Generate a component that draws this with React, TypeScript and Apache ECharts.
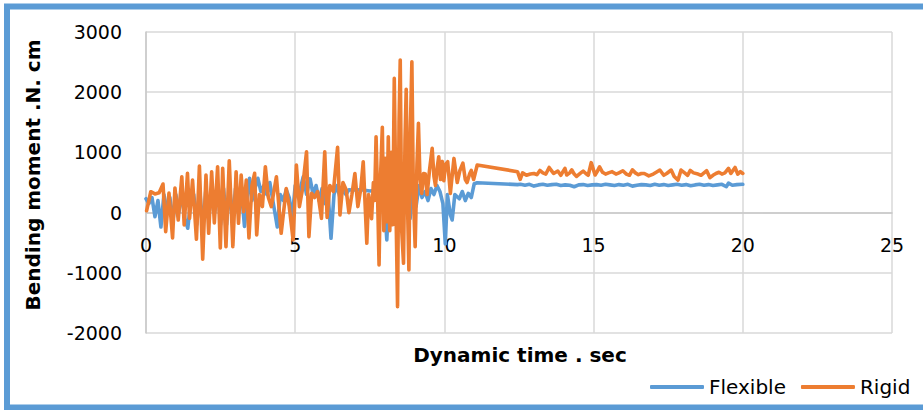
import React, { useEffect, useRef } from "react";
import * as echarts from "echarts";

const rigidTime = [
  0.02, 0.16, 0.3, 0.44, 0.57, 0.66, 0.77, 0.89, 0.97, 1.08, 1.2, 1.28, 1.39, 1.46, 1.56, 1.69, 1.79, 1.9, 2.01, 2.1,
  2.2, 2.29, 2.4, 2.49, 2.57, 2.68, 2.79, 2.91, 3.02, 3.1, 3.19, 3.27, 3.36, 3.45, 3.55, 3.64, 3.71, 3.8, 3.9, 4.0,
  4.1, 4.2, 4.37, 4.53, 4.7, 4.8, 4.93, 5.04, 5.14, 5.24, 5.38, 5.46, 5.55, 5.65, 5.75, 5.88, 5.99, 6.07, 6.16, 6.28,
  6.42, 6.5, 6.6, 6.71, 6.8, 6.9, 7.0, 7.1, 7.2, 7.28, 7.4, 7.46, 7.51, 7.56, 7.62, 7.66, 7.71, 7.76, 7.81, 7.86,
  7.92, 7.97, 8.02, 8.07, 8.12, 8.17, 8.22, 8.27, 8.32, 8.38, 8.43, 8.48, 8.52, 8.57, 8.63, 8.68, 8.72, 8.77, 8.81, 8.86,
  8.91, 8.96, 9.02, 9.08, 9.13, 9.18, 9.24, 9.3, 9.36, 9.42, 9.5, 9.59, 9.65, 9.7, 9.76, 9.81, 9.87, 9.93, 9.98, 10.04,
  10.11, 10.2, 10.32, 10.43, 10.52, 10.62, 10.7, 10.76, 10.85, 10.9, 10.98, 11.1, 12.45, 12.54, 12.62, 12.75, 12.88, 13.0, 13.1, 13.2,
  13.3, 13.4, 13.51, 13.6, 13.66, 13.8, 13.9, 14.04, 14.1, 14.2, 14.27, 14.35, 14.43, 14.55, 14.65, 14.74, 14.82, 14.92, 15.05, 15.12,
  15.2, 15.3, 15.4, 15.5, 15.62, 15.75, 15.85, 15.98, 16.1, 16.2, 16.3, 16.4, 16.5, 16.6, 16.7, 16.85, 17.0, 17.1, 17.22, 17.35,
  17.45, 17.6, 17.7, 17.83, 17.93, 18.05, 18.15, 18.24, 18.35, 18.5, 18.6, 18.7, 18.79, 18.9, 19.0, 19.1, 19.2, 19.3, 19.4, 19.52,
  19.6, 19.74, 19.83, 19.92, 20.0,
];
const rigidMoment = [
  30, 347, 310, 330, 475, -317, 325, -420, 408, -123, 596, -206, 652, -95, 541, -443, 773, -775, 624, -344,
  679, -173, 762, -588, 735, -566, 862, -566, 679, -178, 624, 15, 541, -420, 450, 652, -372, 300, 100, 762,
  250, 100, 596, -344, 400, 100, -455, 790, 100, 375, 1011, -400, 320, 250, 350, -95, 1011, -80, 450, 350,
  1084, -40, 500, 375, 0, 300, 650, 100, 400, 845, -510, 300, 155, -100, 500, 200, 1260, 300, -870, 600,
  1416, -300, 900, -150, 1260, -300, 1000, -200, 2229, 0, -1562, 1500, 2533, -300, -842, 1200, 2047, 0, -953, 1400,
  2505, 300, -566, 800, 1482, 600, 320, 650, 640, 300, 700, 1067, 600, 450, 750, 928, 550, 850, 530, 800,
  845, 320, 900, 500, 700, 820, 550, 500, 650, 700, 550, 790, 680, 553, 660, 620, 640, 650, 630, 700,
  660, 640, 750, 690, 650, 690, 620, 735, 625, 660, 710, 640, 600, 650, 690, 650, 620, 830, 625, 680,
  760, 670, 640, 660, 680, 640, 660, 695, 640, 620, 710, 660, 630, 650, 650, 610, 640, 670, 707, 620,
  650, 707, 600, 540, 707, 660, 620, 700, 660, 640, 620, 660, 695, 580, 620, 650, 670, 640, 660, 735,
  650, 750, 640, 680, 650,
];

const flexibleTime = [
  0.0, 0.1, 0.2, 0.3, 0.4, 0.5, 0.6, 0.7, 0.8, 0.9, 1.0, 1.1, 1.2, 1.3, 1.4, 1.5, 1.6, 1.7, 1.8, 1.9,
  2.0, 2.1, 2.2, 2.3, 2.4, 2.5, 2.6, 2.7, 2.8, 2.9, 3.0, 3.1, 3.2, 3.3, 3.4, 3.47, 3.55, 3.65, 3.75, 3.85,
  3.95, 4.05, 4.15, 4.25, 4.4, 4.5, 4.6, 4.7, 4.8, 4.9, 5.0, 5.1, 5.27, 5.38, 5.5, 5.6, 5.7, 5.8, 5.9, 6.0,
  6.1, 6.2, 6.3, 6.4, 6.5, 6.6, 6.7, 6.8, 6.9, 7.2, 7.5, 7.7, 7.8, 7.9, 8.0, 8.07, 8.15, 8.25, 8.35, 8.45,
  8.55, 8.65, 8.75, 8.85, 8.95, 9.05, 9.15, 9.25, 9.35, 9.45, 9.55, 9.65, 9.75, 9.85, 9.95, 10.03, 10.1, 10.2, 10.26, 10.35,
  10.5, 10.6, 10.7, 10.8, 10.9, 11.0, 11.1, 12.45, 12.55, 12.7, 12.85, 13.0, 13.15, 13.3, 13.45, 13.6, 13.75, 13.9, 14.05, 14.2,
  14.35, 14.5, 14.65, 14.8, 14.95, 15.1, 15.25, 15.4, 15.55, 15.7, 15.85, 16.0, 16.15, 16.3, 16.45, 16.6, 16.75, 16.9, 17.05, 17.2,
  17.35, 17.5, 17.65, 17.8, 17.95, 18.1, 18.25, 18.4, 18.55, 18.7, 18.85, 19.0, 19.15, 19.3, 19.45, 19.52, 19.65, 19.8, 20.0,
];
const flexibleMoment = [
  230, 150, 250, -68, 200, -240, 300, 50, 250, -150, 300, 0, 350, -100, -260, 200, 300, -200, 400, -300,
  350, -100, 400, 0, 450, -200, 400, -200, 450, -150, 400, 0, 350, -230, 300, 570, 200, 400, 570, 350,
  450, 300, 500, 200, -240, 300, 200, 380, 250, -100, 450, 250, 596, 300, 560, 300, 450, 200, 400, 150,
  350, -427, 300, 450, 250, 375, 300, 380, 375, 380, 360, 370, 200, 500, 100, -455, 400, 200, 600, -200,
  700, 0, 600, -100, 500, 100, 450, 250, 350, 200, 400, 300, 450, 350, 150, -520, 300, -40, -123, 300,
  230, 350, 200, 320, 250, 480, 497, 465, 470, 455, 470, 440, 460, 470, 455, 465, 470, 450, 460, 455,
  430, 460, 465, 450, 460, 465, 455, 470, 460, 450, 465, 455, 470, 440, 455, 465, 460, 450, 470, 455,
  465, 450, 460, 470, 455, 465, 445, 460, 470, 455, 465, 450, 460, 470, 430, 490, 455, 465, 470,
];

const yTicks = { min: -2000, max: 3000, step: 1000 };
const xTicks = { min: 0, max: 25, step: 5 };

const zip = (t: number[], v: number[]) => t.map((x, i) => [x, v[i]]);

const FONT = "DejaVu Sans";
const GRID_TOP = 32;
const GRID_BOTTOM = 77;
const PLOT_H = 410 - GRID_TOP - GRID_BOTTOM;
// x axis crosses the y axis at value 0
const X_AXIS_OFFSET = -PLOT_H * ((0 - yTicks.min) / (yTicks.max - yTicks.min));

export default function App() {
  const ref = useRef<HTMLDivElement>(null);
  useEffect(() => {
    if (!ref.current) return;
    const chart = echarts.init(ref.current, null, { renderer: "svg" });
    chart.setOption({
      animation: false,
      backgroundColor: "#ffffff",
      grid: { left: 146, right: 31, top: GRID_TOP, bottom: GRID_BOTTOM, containLabel: false },
      xAxis: {
        type: "value",
        position: "bottom",
        offset: X_AXIS_OFFSET,
        min: xTicks.min,
        max: xTicks.max,
        interval: xTicks.step,
        axisLine: { show: true, onZero: false, lineStyle: { color: "#C8C8C8", width: 1.5 } },
        axisTick: { show: false },
        axisLabel: { color: "#000", fontFamily: FONT, fontSize: 19, margin: 23, formatter: (v: number) => String(v) },
        splitLine: { show: true, lineStyle: { color: "#D9D9D9", width: 1.5 } },
      },
      yAxis: {
        type: "value",
        min: yTicks.min,
        max: yTicks.max,
        interval: yTicks.step,
        axisLine: { show: true, onZero: false, lineStyle: { color: "#C8C8C8", width: 1.5 } },
        axisTick: { show: false },
        axisLabel: { color: "#000", fontFamily: FONT, fontSize: 19, margin: 24, formatter: (v: number) => String(v) },
        splitLine: { show: true, lineStyle: { color: "#D9D9D9", width: 1.5 } },
      },
      legend: {
        left: 645,
        top: 372,
        itemWidth: 54,
        itemHeight: 4,
        itemGap: 15,
        icon: "roundRect",
        textStyle: { color: "#000", fontFamily: FONT, fontSize: 20 },
        data: ["Flexible", "Rigid"],
      },
      series: [
        {
          name: "Flexible",
          type: "line",
          data: zip(flexibleTime, flexibleMoment),
          showSymbol: false,
          symbol: "none",
          lineStyle: { color: "#5B9BD5", width: 3.6, join: "round", cap: "round" },
          itemStyle: { color: "#5B9BD5" },
        },
        {
          name: "Rigid",
          type: "line",
          data: zip(rigidTime, rigidMoment),
          showSymbol: false,
          symbol: "none",
          lineStyle: { color: "#ED7D31", width: 3.6, join: "round", cap: "round" },
          itemStyle: { color: "#ED7D31" },
        },
      ],
      graphic: [
        {
          type: "rect",
          shape: { x: 7, y: 6.5, width: 940, height: 401 },
          style: { fill: "none", stroke: "#5B9BD5", lineWidth: 6 },
          silent: true,
        },
        {
          type: "text",
          x: 520,
          y: 355,
          style: {
            text: "Dynamic time . sec",
            fontFamily: FONT,
            fontWeight: "bold",
            fontSize: 20,
            fill: "#000",
            align: "center",
            verticalAlign: "middle",
          },
        },
        {
          type: "text",
          x: 33,
          y: 175,
          rotation: Math.PI / 2,
          style: {
            text: "Bending moment .N. cm",
            fontFamily: FONT,
            fontWeight: "bold",
            fontSize: 20,
            fill: "#000",
            align: "center",
            verticalAlign: "middle",
          },
        },
      ],
    });
    return () => chart.dispose();
  }, []);
  return (
    <div
      ref={ref}
      style={{ position: "fixed", left: 0, top: 0, width: 923, height: 410, background: "#fff" }}
    />
  );
}
